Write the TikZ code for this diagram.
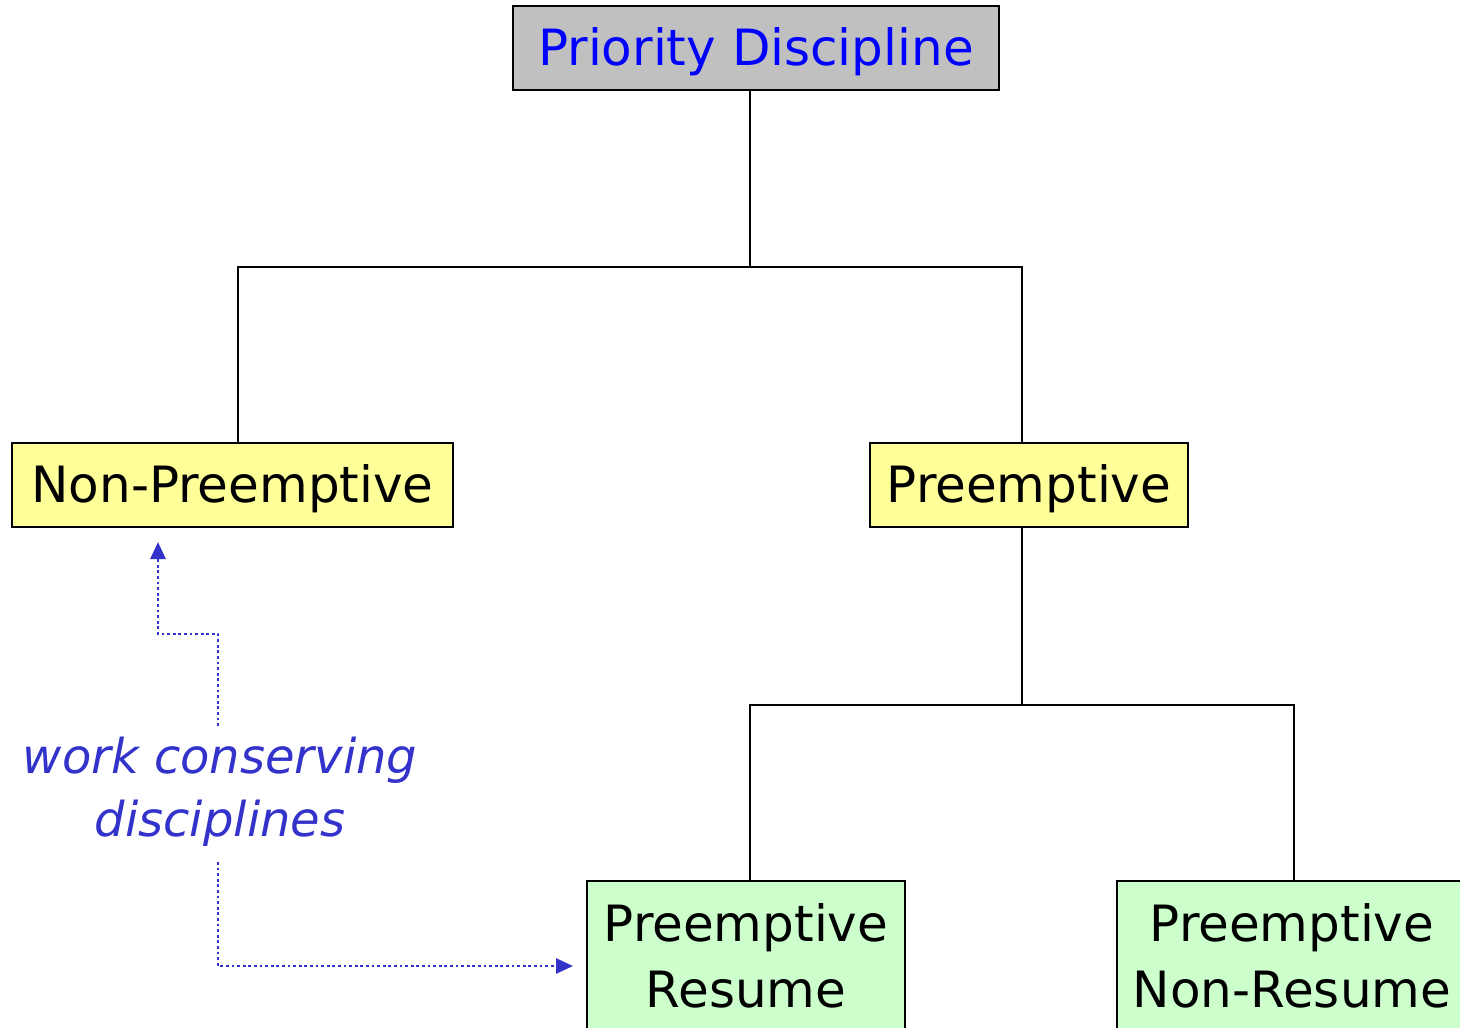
\documentclass[tikz,border=0pt]{standalone}
\usepackage{fontspec}
\setmainfont{DejaVu Sans}
\usetikzlibrary{arrows.meta}
\definecolor{boxgray}{HTML}{C0C0C0}
\definecolor{boxyellow}{HTML}{FFFF99}
\definecolor{boxgreen}{HTML}{CCFFCC}
\definecolor{noteblue}{HTML}{3333CC}
\newcommand{\lowertext}[2]{\raisebox{-#1}[\height][\depth]{#2}}
\begin{document}
\begin{tikzpicture}[x=1pt,y=-1pt,
  box/.style={draw=black,line width=1.5pt,inner sep=0pt,align=center,
    font=\fontsize{50}{66}\selectfont},
  tree/.style={draw=black,line width=1.5pt},
  note/.style={draw=noteblue,line width=2.8pt,dash pattern=on 2.8pt off 2.8pt,
    -{Triangle[length=17pt,width=15pt]}}]
\clip (0,0) rectangle (1460,1028);
\fill[white] (0,0) rectangle (1460,1028);
\node[box,fill=boxgray,text=blue,minimum width=486pt,minimum height=84pt] (top) at (756,48) {\lowertext{4pt}{Priority Discipline}};
\node[box,fill=boxyellow,minimum width=441pt,minimum height=84pt] (np) at (232.5,485) {\lowertext{4pt}{Non-Preemptive}};
\node[box,fill=boxyellow,minimum width=318pt,minimum height=84pt] (pe) at (1029,485) {\lowertext{4pt}{Preemptive}};
\node[box,fill=boxgreen,minimum width=318pt,minimum height=150pt] (pr) at (746,956) {Preemptive\\Resume};
\node[box,fill=boxgreen,minimum width=350pt,minimum height=150pt] (pn) at (1292,956) {Preemptive\\Non-Resume};
\node[text=noteblue,align=center,font=\fontsize{48}{63}\selectfont\itshape] (wc) at (220,792) {work conserving\\disciplines};
\coordinate (j1) at (750,267);
\coordinate (j2) at (1022,705);
\draw[tree] (top.south -| j1) -- (j1);
\draw[tree] (238,443) |- (1022,267) -- (1022,443);
\draw[tree] (pe.south -| j2) -- (j2);
\draw[tree] (750,881) |- (1294,705) -- (1294,881);
\draw[note] (218,726) -- (218,634) -- (158,634) -- (158,542);
\draw[note] (218,862) -- (218,966) -- (573,966);
\end{tikzpicture}
\end{document}
